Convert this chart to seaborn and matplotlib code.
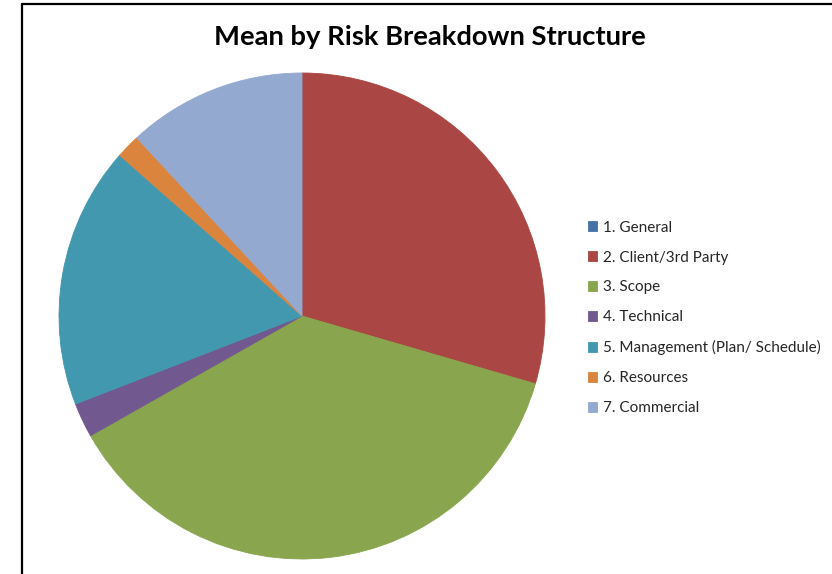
import matplotlib.pyplot as plt
import seaborn as sns
from matplotlib.lines import Line2D

sns.set_theme(style="white")
plt.rcParams['font.family'] = ['Lato', 'DejaVu Sans']

TITLE = "Mean by Risk Breakdown Structure"
categories = ["1. General", "2. Client/3rd Party", "3. Scope", "4. Technical",
              "5. Management (Plan/ Schedule)", "6. Resources", "7. Commercial"]
means = [0.0, 29.5, 37.3, 2.3, 17.4, 1.6, 11.9]
colors = ["#4572A7", "#AA4643", "#89A54E", "#71588F", "#4198AF", "#DB843D", "#93A9CF"]

W, H = 832, 574
fig = plt.figure(figsize=(W / 100, H / 100), dpi=100)

# pie centre (302, 316) px, radius 243 px
cx, cy, r = 302, 316, 243
ax = fig.add_axes([(cx - r) / W, (H - cy - r) / H, 2 * r / W, 2 * r / H])
palette = sns.color_palette(colors)
wedges, _ = ax.pie(means, colors=palette, startangle=90, counterclock=False,
                   wedgeprops=dict(linewidth=0))
for w in wedges:
    w.set_edgecolor(w.get_facecolor())
    w.set_linewidth(0.6)
ax.set_xlim(-1, 1)
ax.set_ylim(-1, 1)
ax.set_aspect("equal")
ax.axis("off")

fig.text(430 / W, 1 - 37 / H, TITLE, ha="center", va="center",
         fontsize=19.7, fontweight="bold", color="black")

fig.legend(wedges, categories, loc="upper left",
           bbox_to_anchor=(580 / W, 1 - 213 / H), frameon=False,
           fontsize=11, handlelength=0.62, handleheight=0.62,
           handletextpad=0.4, labelspacing=1.04, borderpad=0)

# chart area border (top and left edges visible)
fig.add_artist(Line2D([22 / W, 22 / W], [0, 1 - 4 / H], color="black", lw=1.6,
                      transform=fig.transFigure))
fig.add_artist(Line2D([22 / W, 1], [1 - 4 / H, 1 - 4 / H], color="black", lw=1.6,
                      transform=fig.transFigure))

fig.savefig("out.png", dpi=100)
